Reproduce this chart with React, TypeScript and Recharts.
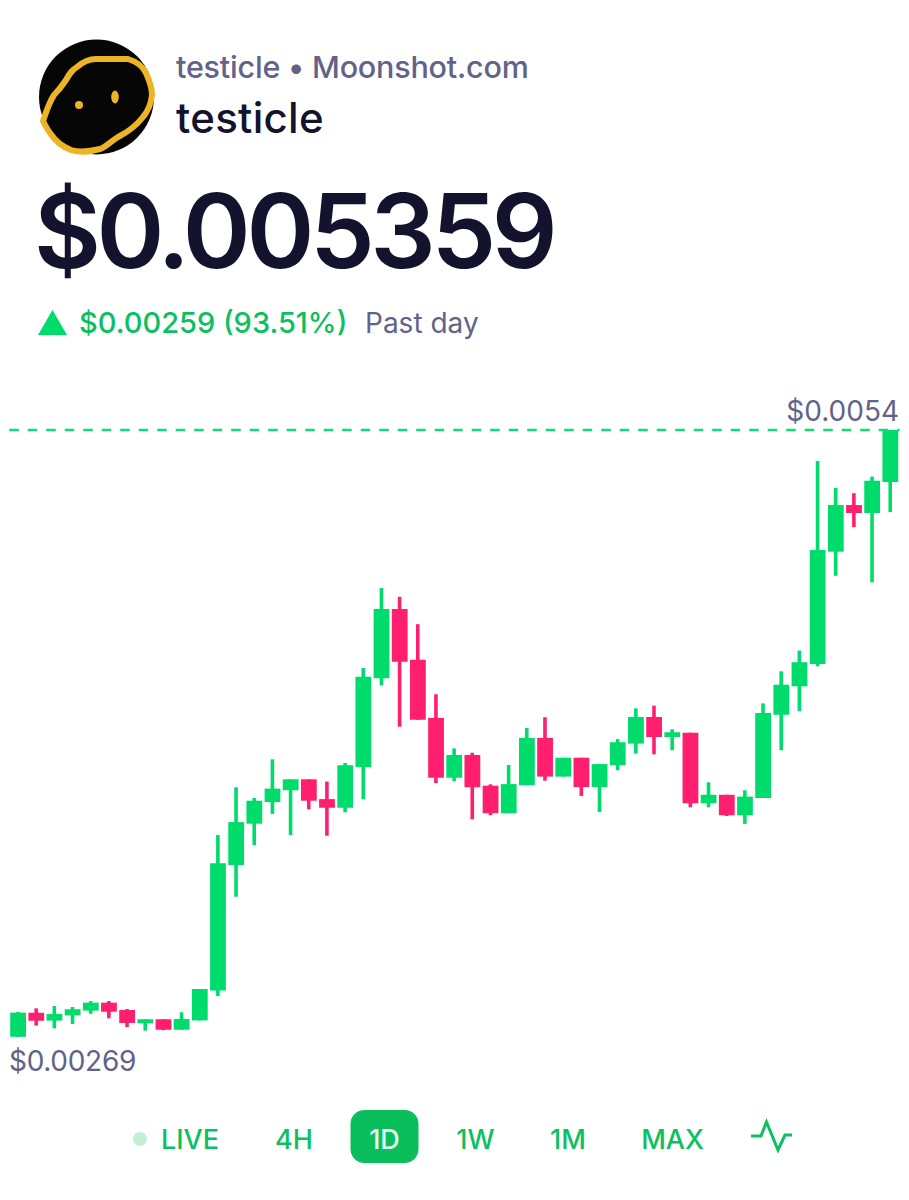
import React from "react";
import { Bar, ComposedChart, Cell, ReferenceLine, XAxis, YAxis } from "recharts";

// Prices are in millionths of a dollar
const OPENS = [
  2691, 2797, 2762, 2785, 2806, 2841, 2809, 2750, 2768, 2722,
  2763, 2894, 3446, 3628, 3723, 3775, 3823, 3736, 3698, 3877,
  4267, 4572, 4349, 4093, 3830, 3930, 3795, 3674, 3797, 4005,
  3835, 3918, 3789, 3885, 3980, 4097, 4009, 4028, 3718, 3755,
  3665, 3741, 4107, 4232, 4330, 4824, 5029, 4994, 5130,
];
const CLOSES = [
  2797, 2762, 2791, 2812, 2841, 2801, 2752, 2768, 2722, 2769,
  2901, 3454, 3635, 3729, 3782, 3823, 3729, 3698, 3885, 4274,
  4572, 4340, 4085, 3830, 3930, 3788, 3674, 3802, 4005, 3835,
  3918, 3789, 3890, 3986, 4097, 4009, 4030, 3718, 3755, 3665,
  3747, 4115, 4239, 4338, 4831, 5029, 4994, 5136, 5359,
];
const HIGHS = [
  2800, 2816, 2826, 2822, 2848, 2848, 2813, 2768, 2768, 2799,
  2901, 3578, 3788, 3741, 3911, 3823, 3823, 3813, 3895, 4312,
  4664, 4626, 4505, 4197, 3959, 3940, 3801, 3886, 4049, 4096,
  3918, 3918, 3890, 4000, 4135, 4147, 4043, 4028, 3810, 3755,
  3775, 4157, 4298, 4389, 5223, 5104, 5081, 5154, 5359,
];
const LOWS = [
  2690, 2740, 2728, 2747, 2792, 2772, 2734, 2718, 2720, 2722,
  2763, 2870, 3307, 3534, 3671, 3578, 3691, 3575, 3678, 3735,
  4236, 4054, 4085, 3806, 3814, 3647, 3665, 3674, 3797, 3817,
  3835, 3750, 3679, 3863, 3936, 3933, 3951, 3700, 3700, 3662,
  3627, 3741, 3951, 4123, 4320, 4718, 4932, 4689, 4998,
];

const RANGES = ["LIVE", "4H", "1D", "1W", "1M", "MAX"];
const GREEN = "#00dc6c";
const PINK = "#ff1f6e";
const TEXT_GREEN = "#0cbf60";
const MUTED = "#62628a";
const DARK = "#14132e";
const FONT = "Inter, sans-serif";

const candles = OPENS.map((open, i) => ({
  idx: i,
  body: [Math.min(open, CLOSES[i]), Math.max(open, CLOSES[i])],
  wick: [LOWS[i], HIGHS[i]],
  up: CLOSES[i] >= open,
}));

const Avatar = () => (
  <g>
    <circle cx={96.5} cy={97} r={57.5} fill="#060606" />
    <path
      d="M43 121 C47 109 50 101 54 95 C60 89 62 86 66 80 C70 73 72 70 77 67 C84 61 90 59 96 59 L128 59 C138 62 143 67 146 73 C150 82 152 88 152 95 C151 104 148 111 143 117 C136 126 128 132 118 137 C110 142 106 147 100 149 C88 152 80 153 71 150 C60 146 54 139 50 133 C47 129 45 125 43 121 Z"
      fill="none"
      stroke="#edb526"
      strokeWidth={6}
    />
    <circle cx={79} cy={105} r={4} fill="#edb526" />
    <ellipse cx={115} cy={97} rx={3.8} ry={6.5} fill="#edb526" />
  </g>
);

const Overlay = () => (
  <svg width={909} height={1200} style={{ position: "absolute", left: 0, top: 0 }} fontFamily={FONT}>
    <Avatar />
    <text x={176} y={78} fontSize={30.5} fontWeight={500} fill={MUTED} letterSpacing={-0.2}>testicle • Moonshot.com</text>
    <text x={176} y={133} fontSize={42} fontWeight={500} fill={DARK} letterSpacing={0.3}>testicle</text>
    <text x={34} y={268} fontSize={103} fontWeight={600} fill={DARK} letterSpacing={-4.4}>$0.005359</text>
    <polygon points="38,335 52.5,310 67,335" fill={GREEN} />
    <text x={79} y={333} fontSize={29} fontWeight={500} fill={TEXT_GREEN}>$0.00259 (93.51%)</text>
    <text x={365} y={333} fontSize={28} fill={MUTED}>Past day</text>
    <text x={899} y={421} fontSize={28} fill={MUTED} textAnchor="end">$0.0054</text>
    <text x={9} y={1071} fontSize={28} fill={MUTED} letterSpacing={-0.3}>$0.00269</text>

    <circle cx={140} cy={1139} r={7} fill="#c3eed6" />
    <rect x={350.5} y={1110} width={68} height={53} rx={14} fill="#0abf5b" />
    {RANGES.map((label, i) => (
      <text
        key={label}
        x={[190, 294, 384.5, 475.5, 568, 672.5][i]}
        y={1149}
        fontSize={27}
        fontWeight={500}
        textAnchor="middle"
        fill={label === "1D" ? "#e6fbef" : TEXT_GREEN}
      >
        {label}
      </text>
    ))}
    <polyline
      points="751,1136 761,1136 766.5,1122 778,1150 785,1135 792,1135"
      fill="none"
      stroke={TEXT_GREEN}
      strokeWidth={3}
    />
  </svg>
);

export default function App() {
  return (
    <div style={{ position: "absolute", left: 0, top: 0, width: 909, height: 1200, background: "#fff" }}>
      <ComposedChart
        width={909}
        height={1200}
        data={candles}
        margin={{ top: 430, right: 9.4, bottom: 163, left: 9.2 }}
      >
        <XAxis xAxisId="wick" dataKey="idx" type="category" hide />
        <XAxis xAxisId="body" dataKey="idx" type="category" hide />
        <YAxis hide domain={[2690, 5359]} allowDataOverflow />
        <ReferenceLine
          xAxisId="body"
          y={5359}
          stroke="#12dc76"
          strokeWidth={2.4}
          strokeDasharray="9.5 9"
        />
        <Bar xAxisId="wick" dataKey="wick" barSize={3.6} isAnimationActive={false}>
          {candles.map((c) => (
            <Cell key={c.idx} fill={c.up ? GREEN : PINK} />
          ))}
        </Bar>
        <Bar xAxisId="body" dataKey="body" barSize={15.8} isAnimationActive={false}>
          {candles.map((c) => (
            <Cell key={c.idx} fill={c.up ? GREEN : PINK} />
          ))}
        </Bar>
      </ComposedChart>
      <Overlay />
    </div>
  );
}
